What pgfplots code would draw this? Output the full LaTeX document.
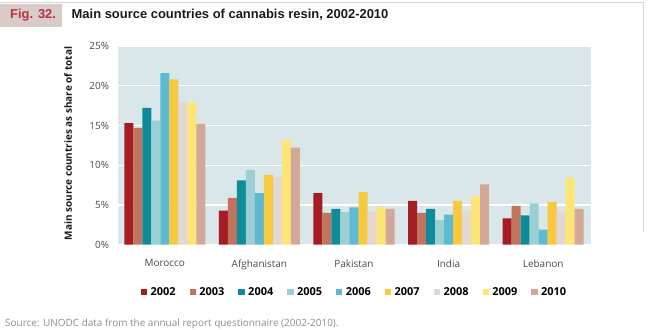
\documentclass[border=0pt]{standalone}
\usepackage{fontspec}
\setmainfont{Open Sans}
\newfontfamily\arialfont{Liberation Sans}
\usepackage{pgfplots}
\pgfplotsset{compat=1.18}
\definecolor{bgc}{HTML}{D9E6EA}
\definecolor{figbox}{HTML}{D9CBC8}
\definecolor{figred}{HTML}{B8323F}
\definecolor{tickc}{HTML}{4A4A4A}
\definecolor{srcc}{HTML}{8C8C8C}
\definecolor{framec}{HTML}{D6D6D6}
\definecolor{c2002}{HTML}{A51C24}
\definecolor{c2003}{HTML}{C1735E}
\definecolor{c2004}{HTML}{0F8C9A}
\definecolor{c2005}{HTML}{9CCFD3}
\definecolor{c2006}{HTML}{5DBAD0}
\definecolor{c2007}{HTML}{F6C93F}
\definecolor{c2008}{HTML}{E3D7D2}
\definecolor{c2009}{HTML}{FBE574}
\definecolor{c2010}{HTML}{D4A898}
\begin{document}
\begin{tikzpicture}
\path[use as bounding box] (0,0) rectangle (650bp,-330bp);
\draw[framec, line width=0.8bp] (0,-2.5bp) -- (643bp,-2.5bp) -- (643bp,-232bp);
\fill[figbox] (0,-3.5bp) rectangle (62bp,-27bp);
\node[anchor=base west, inner sep=0pt, text=figred, font=\arialfont\bfseries\fontsize{13}{15}\selectfont] at (10bp,-18.3bp) {Fig. 32.};
\node[anchor=base west, inner sep=0pt, text=black!90, font=\arialfont\bfseries\fontsize{13}{15}\selectfont] at (71.5bp,-18.3bp) {Main source countries of cannabis resin, 2002-2010};
\node[rotate=90, inner sep=0pt, font=\bfseries\fontsize{10}{12}\selectfont, text=black!90] at (68bp,-143.5bp) {Main source countries as share of total};
\node[anchor=base west, inner sep=0pt, text=srcc, font=\fontsize{10}{12}\selectfont] at (5bp,-326bp) {Source: UNODC data from the annual report questionnaire (2002-2010).};
\begin{axis}[
  at={(117.5bp,-244.7bp)}, anchor=south west,
  scale only axis, width=473bp, height=198.7bp,
  xmin=-0.5, xmax=4.5, ymin=0, ymax=25,
  ybar=0pt, bar width=0.0952,
  axis background/.style={fill=bgc},
  axis line style={draw=none},
  ytick={0,5,10,15,20,25},
  yticklabel={\pgfmathprintnumber{\tick}\%},
  /pgf/number format/assume math mode=true,
  ymajorgrids, grid style={white, line width=1.2bp},
  ytick style={draw=none},
  yticklabel style={font=\fontsize{10}{12}\selectfont, text=tickc, xshift=-5bp},
  xtick={0,1,2,3,4},
  xticklabels={Morocco,Afghanistan,Pakistan,India,Lebanon},
  xticklabel style={font=\fontsize{10}{12}\selectfont, text=tickc, yshift=-7bp},
  xtick style={draw=none},
  xtick pos=bottom,
  extra x ticks={0.5,1.5,2.5,3.5},
  extra x tick labels={},
  extra x tick style={grid=none, tick align=outside, major tick length=3bp, tick style={draw=black!25, line width=0.6bp}},
  legend columns=9,
  legend style={at={(0.5,-0.239)}, anchor=center, draw=none, fill=none,
    font=\bfseries\fontsize{11}{13}\selectfont,
    /tikz/every odd column/.append style={column sep=2.5bp},
    /tikz/every even column/.append style={column sep=13bp},
    nodes={inner sep=1bp}},
  legend image code/.code={\path[#1,draw=none] (0bp,-3.15bp) rectangle (6.3bp,3.15bp);},
]
\addplot[fill=c2002, draw=none] coordinates {(0,15.3) (1,4.3) (2,6.5) (3,5.5) (4,3.3)};
\addplot[fill=c2003, draw=none] coordinates {(0,14.7) (1,5.9) (2,4.0) (3,4.0) (4,4.9)};
\addplot[fill=c2004, draw=none] coordinates {(0,17.2) (1,8.1) (2,4.5) (3,4.5) (4,3.7)};
\addplot[fill=c2005, draw=none] coordinates {(0,15.6) (1,9.4) (2,4.1) (3,3.1) (4,5.2)};
\addplot[fill=c2006, draw=none] coordinates {(0,21.6) (1,6.5) (2,4.7) (3,3.8) (4,1.9)};
\addplot[fill=c2007, draw=none] coordinates {(0,20.8) (1,8.8) (2,6.6) (3,5.5) (4,5.4)};
\addplot[fill=c2008, draw=none] coordinates {(0,18.0) (1,8.5) (2,4.2) (3,4.2) (4,4.2)};
\addplot[fill=c2009, draw=none] coordinates {(0,17.9) (1,13.2) (2,4.8) (3,6.1) (4,8.4)};
\addplot[fill=c2010, draw=none] coordinates {(0,15.2) (1,12.2) (2,4.5) (3,7.6) (4,4.5)};
\legend{2002,2003,2004,2005,2006,2007,2008,2009,2010}
\end{axis}
\end{tikzpicture}
\end{document}
